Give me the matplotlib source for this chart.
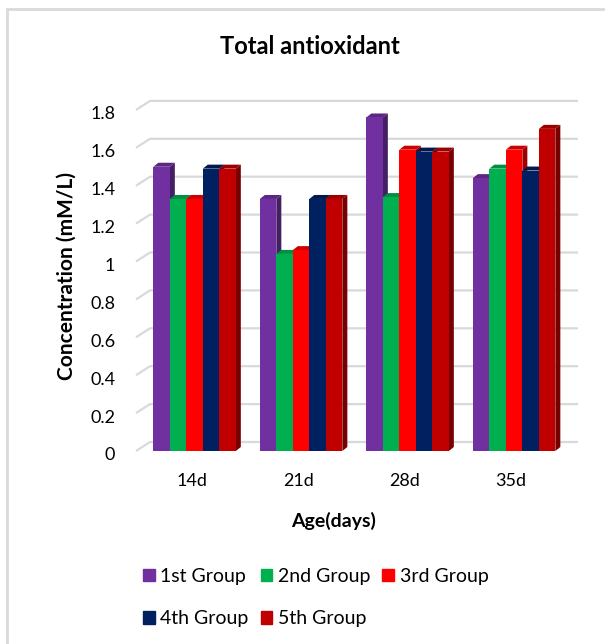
import matplotlib
matplotlib.use("Agg")
import matplotlib.pyplot as plt
import matplotlib.transforms as mtransforms
import numpy as np
from matplotlib.patches import Polygon, Rectangle
from matplotlib.colors import to_rgb

plt.rcParams['font.family'] = ['Lato', 'DejaVu Sans']

# Total antioxidant (mM/L) per group at each age
ages = ['14d', '21d', '28d', '35d']
groups = ['1st Group', '2nd Group', '3rd Group', '4th Group', '5th Group']
colors = ['#7030A0', '#00B050', '#FF0000', '#002060', '#C00000']
g1 = [1.50, 1.33, 1.76, 1.44]
g2 = [1.33, 1.04, 1.34, 1.49]
g3 = [1.33, 1.06, 1.59, 1.59]
g4 = [1.49, 1.33, 1.58, 1.48]
g5 = [1.49, 1.33, 1.58, 1.70]
y_ticks = [0, 0.2, 0.4, 0.6, 0.8, 1.0, 1.2, 1.4, 1.6, 1.8]
y_tick_labels = ['0', '0.2', '0.4', '0.6', '0.8', '1', '1.2', '1.4', '1.6', '1.8']

series = [g1, g2, g3, g4, g5]

W, H = 605, 644
fig = plt.figure(figsize=(W / 100, H / 100), dpi=100)

# chart frame (runs off the right and bottom edge)
fig.patches.append(Rectangle((7 / W, -0.1), 1.2, 1.1 - 9 / H, transform=fig.transFigure,
                             fill=False, edgecolor='#d9d9d9', lw=2))

x0, x1 = -0.55, 3.6
ytop = 1.85
ax = fig.add_axes([136 / W, (H - 451) / H, 442 / W, ytop * 189.5 / H])
ax.set_xlim(x0, x1)
ax.set_ylim(0, ytop)
for s in ax.spines.values():
    s.set_visible(False)

# pixel -> data
px_x = 442 / (x1 - x0)
px_y = 189.5

# back wall gridlines with the 3-D slant at the left
wall_dx, wall_dy = 14 / px_x, 9 / px_y
for v in y_ticks:
    ax.plot([x0, x0 + wall_dx, x1], [v, v + wall_dy, v + wall_dy],
            color='#d9d9d9', lw=1.6, clip_on=False, zorder=0, solid_capstyle='butt')

def shade(c, f):
    r, g, b = to_rgb(c)
    return (r * f, g * f, b * f)

bw = 16.5 / px_x
bdx, bdy = 5 / px_x, 4 / px_y
x = np.arange(len(ages))
for k, (vals, c) in enumerate(zip(series, colors)):
    for i, v in enumerate(vals):
        left = x[i] + (k - 2.5) * bw
        z = 2 + k
        side = Polygon([(left + bw, 0), (left + bw + bdx, bdy), (left + bw + bdx, v + bdy), (left + bw, v)],
                       closed=True, facecolor=shade(c, 0.62), edgecolor='none', zorder=z)
        top = Polygon([(left, v), (left + bdx, v + bdy), (left + bw + bdx, v + bdy), (left + bw, v)],
                      closed=True, facecolor=shade(c, 0.82), edgecolor='none', zorder=z)
        ax.add_patch(side)
        ax.add_patch(top)
    ax.bar(x + (k - 2) * bw, vals, width=bw, color=c, zorder=2 + k, label=groups[k])

ax.set_yticks(y_ticks)
ax.set_yticklabels(y_tick_labels)
ax.set_xticks(x)
ax.set_xticklabels(ages)
ax.tick_params(axis='y', length=0, pad=15, labelsize=13)
ax.tick_params(axis='x', length=0, pad=15.5, labelsize=13)
down = mtransforms.ScaledTranslation(0, -3 / 100, fig.dpi_scale_trans)
for lab in ax.get_yticklabels():
    lab.set_transform(lab.get_transform() + down)
left_shift = mtransforms.ScaledTranslation(-3 / 100, 0, fig.dpi_scale_trans)
for lab in ax.get_xticklabels():
    lab.set_transform(lab.get_transform() + left_shift)

ax.set_ylabel('Concentration (mM/L)', fontsize=15, fontweight='bold', va='center')
ax.yaxis.set_label_coords((67 - 136) / 442, (451 - 276) / (ytop * px_y))
ax.set_xlabel('Age(days)', fontsize=14, fontweight='bold')
ax.xaxis.set_label_coords((334 - 136) / 442, (451 - 512) / (ytop * px_y))
fig.text(310 / W, 1 - 46 / H, 'Total antioxidant', ha='center', va='center',
         fontsize=17, fontweight='bold')

order = [0, 3, 1, 4, 2]
fig.legend([Rectangle((0, 0), 1, 1, color=colors[i]) for i in order],
           [groups[i] for i in order], ncol=3, frameon=False, loc='upper left',
           bbox_to_anchor=(143 / W, 1 - 568 / H), borderpad=0, borderaxespad=0,
           fontsize=14, handlelength=0.6, handleheight=0.6, handletextpad=0.3,
           columnspacing=0.6, labelspacing=1.3)

fig.savefig('out.png', dpi=100)
